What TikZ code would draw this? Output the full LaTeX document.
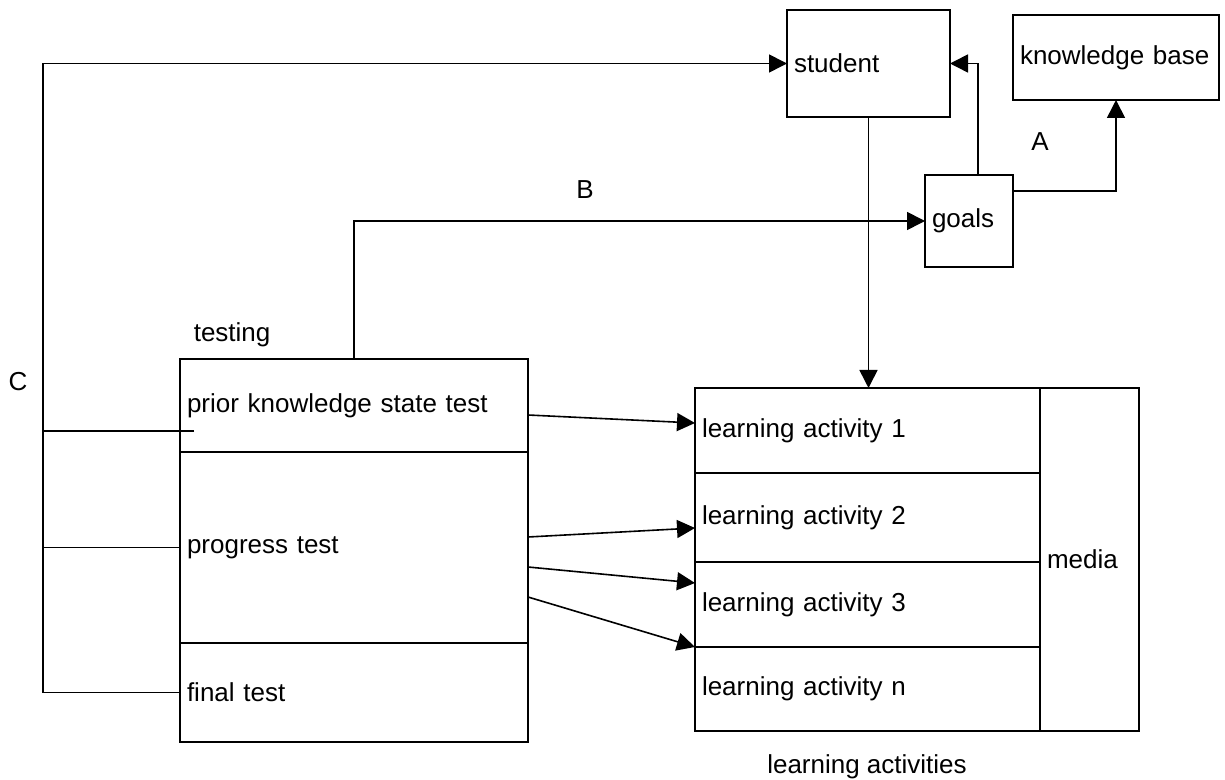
\documentclass[tikz,border=0pt]{standalone}
\usepackage{fontspec}
\setmainfont{Liberation Sans}
\usepackage{tikz}
\usetikzlibrary{arrows.meta,positioning,calc}

\begin{document}
\begin{tikzpicture}[x=0.5pt,y=-0.5pt,line width=0.8pt,
		box/.style={draw,rectangle,anchor=north west,align=left,inner xsep=3.5pt,inner ysep=0pt,outer sep=0pt,font=\fontsize{13}{15}\selectfont},
		lbl/.style={inner sep=0pt,font=\fontsize{13}{15}\selectfont},
		arr/.style={-{Triangle[length=9pt,width=9pt]}}]
		\useasboundingbox (0,0) rectangle (1225,780);

		% top boxes
		\node[box,text width=74.5pt,minimum height=53.5pt] (student) at (787,10) {student};
		\node[box,text width=96pt,minimum height=42.5pt] (kb) at (1013,15) {knowledge base};
		\node[box,text width=37pt,minimum height=46pt] (goals) at (925,175) {goals};

		% testing
		\node[lbl,anchor=west] (testing) at (193,335) {testing};
		\node[box,text width=167pt,minimum height=46.5pt] (prior) at (180,359) {prior knowledge state test};
		\node[box,text width=167pt,minimum height=95.5pt] (progress) [below=0pt of prior] {progress test};
		\node[box,text width=167pt,minimum height=49.5pt] (final) [below=0pt of progress] {final test};

		% learning activities
		\node[box,text width=165.5pt,minimum height=42.5pt] (la1) at (695,388) {learning activity 1};
		\node[box,text width=165.5pt,minimum height=44.5pt] (la2) [below=0pt of la1] {learning activity 2};
		\node[box,text width=165.5pt,minimum height=42.5pt] (la3) [below=0pt of la2] {learning activity 3};
		\node[box,text width=165.5pt,minimum height=42pt] (lan) [below=0pt of la3] {learning activity n};
		\node[box,text width=42.5pt,minimum height=171.5pt] (media) at (1040,388) {media};
		\node[lbl] (acts) at (867,767) {learning activities};

		\node[lbl] (a) at (1040,142) {A};
		\node[lbl] (b) at (585,190) {B};
		\node[lbl] (c-lbl) at (18,382) {C};

		\coordinate (c) at (43,0);
		\coordinate (pk) at (194,431);

		\draw[arr] (final.west) -- (final.west -| c) |- (student.west);
		\draw (progress.west) -- (progress.west -| c);
		\draw (pk) -- (pk -| c);
		\draw[arr] (prior.north) |- (goals.west);
		\draw[arr] (student.south) -- (student.south |- la1.north);
		\draw[arr] ([xshift=4.5pt]goals.north) |- (student.east);
		\draw[arr] ([yshift=15pt]goals.east) -| (kb.south);

		\draw[arr] ([yshift=-4.75pt]prior.east) -- ([yshift=3.75pt]la1.west);
		\draw[arr] ([yshift=5.25pt]progress.east) -- ([yshift=-5.25pt]la2.west);
		\draw[arr] ([yshift=-9.75pt]progress.east) -- ([yshift=10.75pt]la3.west);
		\draw[arr] ([yshift=-24.75pt]progress.east) -- (lan.north west);
	\end{tikzpicture}
\end{document}
